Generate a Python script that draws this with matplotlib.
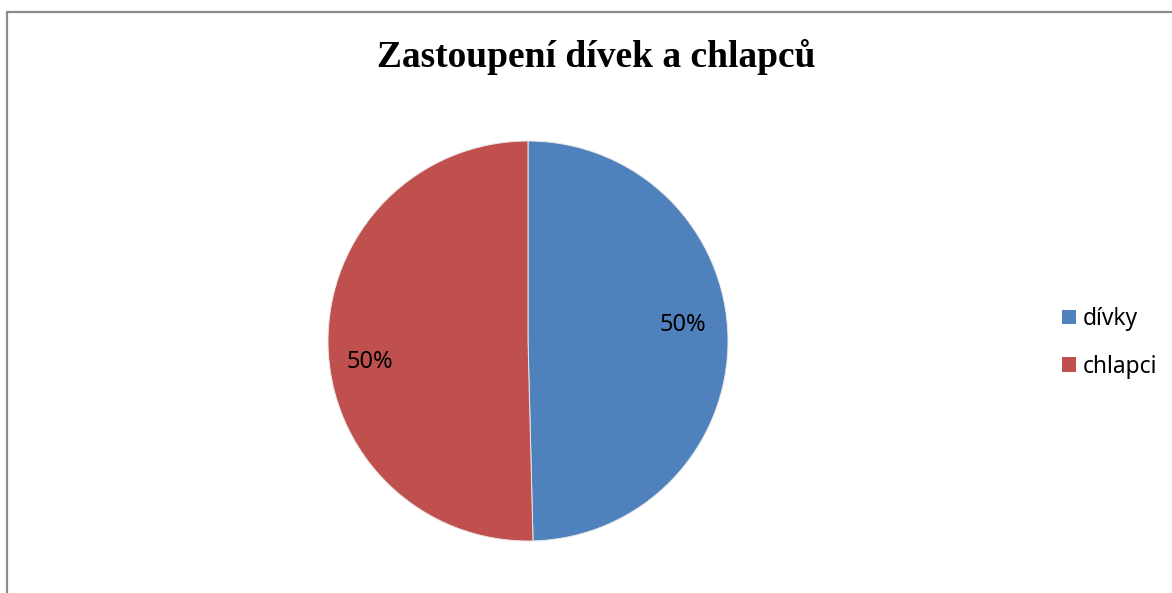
import matplotlib.pyplot as plt
from matplotlib.patches import Rectangle

# data
labels = ['dívky', 'chlapci']
counts = [62, 63]
colors = ['#4F81BD', '#C0504D']
title = 'Zastoupení dívek a chlapců'

W, H = 1172, 593
fig = plt.figure(figsize=(W / 100, H / 100), dpi=100)

# outer chart frame (left and top visible)
fig.patches.append(Rectangle((7 / W, -0.1), 1.2, (H - 12) / H + 0.1,
                             transform=fig.transFigure, fill=False,
                             edgecolor='#8c8c8c', linewidth=1.6))

# pie axes: center (528, 341), radius 200 px
ax = fig.add_axes([328 / W, (H - 541) / H, 400 / W, 400 / H])
wedges, texts = ax.pie(counts, colors=colors, startangle=90, counterclock=False,
                       radius=1, wedgeprops=dict(edgecolor='#e8e8e8', linewidth=0.7))
ax.set_xlim(-1, 1)
ax.set_ylim(-1, 1)
ax.set_aspect('auto')
ax.axis('off')

# percentage labels
total = sum(counts)
label_pos = [(0.775, 0.08), (-0.79, -0.105)]
for c, pos in zip(counts, label_pos):
    ax.text(pos[0], pos[1], '{:.0f}%'.format(100 * c / total), ha='center', va='center',
            fontsize=17, family='Noto Sans', color='black')

fig.text(596 / W, 1 - 67 / H, title, ha='center', va='baseline',
         fontsize=27, fontweight='bold', family='Liberation Serif')

leg = fig.legend(wedges, labels, loc='center left', bbox_to_anchor=(1062 / W, 1 - 343 / H),
                 frameon=False, prop={'family': 'Noto Sans', 'size': 16.4},
                 handlelength=0.6, handleheight=0.6, handletextpad=0.3,
                 labelspacing=1.03, borderpad=0, borderaxespad=0)
for h in leg.legend_handles:
    h.set_edgecolor('none')

fig.savefig('out.png', dpi=100)
